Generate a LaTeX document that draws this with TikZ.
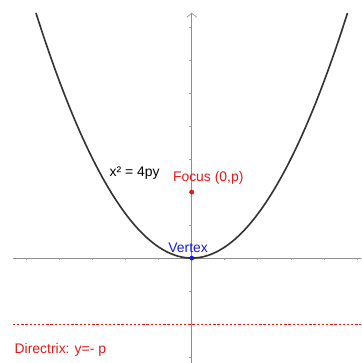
\documentclass[tikz,border=0pt]{standalone}
\usepackage{fontspec}
\setmainfont{Liberation Sans}
\usetikzlibrary{calc,arrows.meta}
\definecolor{ggred}{RGB}{225,25,25}
\definecolor{ggblue}{RGB}{25,25,235}
\tikzset{
  axis/.style={
    draw = gray!90,
    line width = 0.55pt
  },
  tick/.style={
    draw = gray!80,
    line width = 0.4pt
  },
  curve/.style={
    draw = black!80,
    line width = 1.4pt
  },
  directrix/.style={
    draw = ggred,
    line width = 0.5pt,
    dash pattern = on 2pt off 1.6pt
  },
  dot/.style={
    inner sep = 0pt,
    minimum size = 0.13cm,
    shape = circle,
    draw,
    fill
  },
  every picture/.style = {
    font=\fontsize{12}{14}\selectfont
  }
}
\begin{document}
\begin{tikzpicture}
  \useasboundingbox (-5.81,-3.18) rectangle (5.13,7.82);
  % axes
  \coordinate (xl) at (-5.42,0);
  \coordinate (xr) at (5.13,0);
  \coordinate (yb) at (0,-3.18);
  \coordinate (yt) at (0,7.43);
  \draw[axis] (xl) -- (xr);
  \draw[axis,-{Straight Barb[length=1.2mm,width=3mm]}] (yb) -- (yt);
  \foreach \x in {-5,...,-1,1,2,...,5}
    \draw[tick] (\x,0) -- ++(0,-0.07);
  \foreach \y in {-3,...,-1,1,2,...,7}
    \draw[tick] (0,\y) -- ++(-0.07,0);
  % parabola and directrix
  \draw[curve] plot[domain=-4.72:4.72, samples=120, smooth] (\x,{\x*\x/3});
  \coordinate (dl) at (-5.42,-2);
  \coordinate (dr) at (5.13,-2);
  \draw[directrix] (dl) -- (dr);
  \node[dot, ggred] (focus) at (0,2) {};
  \node[dot, ggblue] (vertex) at (0,0) {};
  \node[ggred] (focuslabel) at (0.5,2.42) {Focus (0,p)};
  \node[ggblue] (vertexlabel) at (-0.11,0.32) {Vertex};
  \node (eqn) at (-1.73,2.58) {x² = 4py};
  \node[ggred] (dirlabel) at (-3.98,-2.79) {Directrix: y=- p};
\end{tikzpicture}
\end{document}
